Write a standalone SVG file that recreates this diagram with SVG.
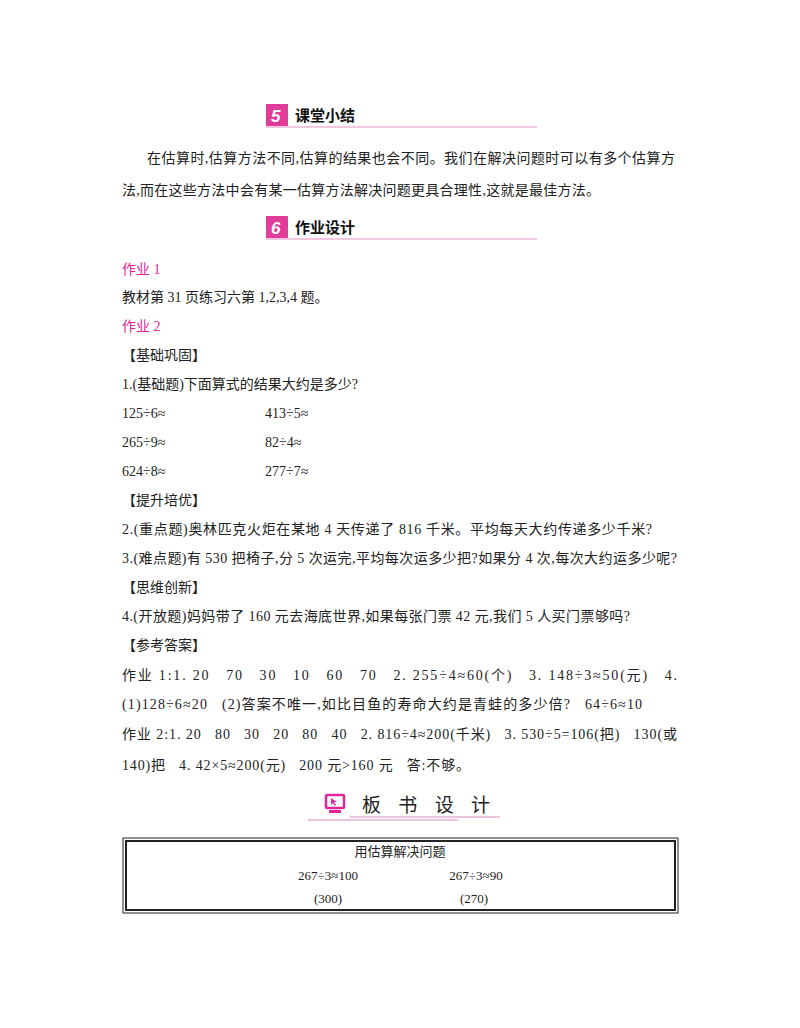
<svg xmlns="http://www.w3.org/2000/svg" width="800" height="1028" viewBox="0 0 800 1028">
<style>
text{font-family:"Liberation Serif","Noto Sans CJK SC",serif;font-size:14px;fill:#222}
.h{font-family:"Noto Sans CJK SC",sans-serif;font-weight:bold;font-size:15px;fill:#111}
.p{fill:#e0249a}
.n{font-family:"Liberation Sans",sans-serif;font-style:italic;font-weight:bold;font-size:17px;fill:#fff}
</style>
<rect width="800" height="1028" fill="#fff"/>
<g id="h5">
<rect x="266" y="104" width="22" height="22" fill="#e23c9a"/>
<text class="n" x="271" y="122">5</text>
<text class="h" x="295" y="121">课堂小结</text>
<line x1="266" y1="127" x2="537" y2="127" stroke="#e58fbf" stroke-width="1.2"/>
</g>
<text x="147" y="163" textLength="528" lengthAdjust="spacing">在估算时,估算方法不同,估算的结果也会不同。我们在解决问题时可以有多个估算方</text>
<text x="122" y="195" textLength="478" lengthAdjust="spacing">法,而在这些方法中会有某一估算方法解决问题更具合理性,这就是最佳方法。</text>
<g id="h6">
<rect x="266" y="216" width="22" height="22" fill="#e23c9a"/>
<text class="n" x="271" y="234">6</text>
<text class="h" x="295" y="233">作业设计</text>
<line x1="266" y1="239" x2="537" y2="239" stroke="#e58fbf" stroke-width="1.2"/>
</g>
<text x="122" y="274" class="p">作业 1</text>
<text x="122" y="302">教材第 31 页练习六第 1,2,3,4 题。</text>
<text x="122" y="331" class="p">作业 2</text>
<text x="122" y="360">【基础巩固】</text>
<text x="122" y="389">1.(基础题)下面算式的结果大约是多少?</text>
<text x="122" y="418">125÷6≈</text><text x="265" y="418">413÷5≈</text>
<text x="122" y="447">265÷9≈</text><text x="265" y="447">82÷4≈</text>
<text x="122" y="476">624÷8≈</text><text x="265" y="476">277÷7≈</text>
<text x="122" y="505">【提升培优】</text>
<text x="122" y="534" textLength="530" lengthAdjust="spacing">2.(重点题)奥林匹克火炬在某地 4 天传递了 816 千米。平均每天大约传递多少千米?</text>
<text x="122" y="563" textLength="555" lengthAdjust="spacing">3.(难点题)有 530 把椅子,分 5 次运完,平均每次运多少把?如果分 4 次,每次大约运多少呢?</text>
<text x="122" y="592">【思维创新】</text>
<text x="122" y="621" textLength="508" lengthAdjust="spacing">4.(开放题)妈妈带了 160 元去海底世界,如果每张门票 42 元,我们 5 人买门票够吗?</text>
<text x="122" y="650">【参考答案】</text>
<text x="122" y="680" textLength="555" lengthAdjust="spacing" xml:space="preserve">作业 1:1. 20   70   30   10   60   70   2. 255÷4≈60(个)   3. 148÷3≈50(元)   4.</text>
<text x="122" y="709" textLength="520" lengthAdjust="spacing" xml:space="preserve">(1)128÷6≈20   (2)答案不唯一,如比目鱼的寿命大约是青蛙的多少倍?   64÷6≈10</text>
<text x="122" y="739" textLength="555" lengthAdjust="spacing" xml:space="preserve">作业 2:1. 20   80   30   20   80   40   2. 816÷4≈200(千米)   3. 530÷5=106(把)   130(或</text>
<text x="122" y="770" textLength="348" lengthAdjust="spacing" xml:space="preserve">140)把   4. 42×5≈200(元)   200 元&gt;160 元   答:不够。</text>
<g id="hboard">
<rect x="326" y="795" width="18" height="13" rx="1" fill="none" stroke="#e0249a" stroke-width="2.5"/>
<path d="M331 798 l6 4 -3 0 2 3 -1 1 -2 -3 -2 2z" fill="#e0249a"/>
<rect x="329" y="810" width="12" height="3" fill="#e0249a"/>
<text x="362" y="812" style="font-size:19px" textLength="128" lengthAdjust="spacing">板书设计</text>
<line x1="350" y1="817" x2="500" y2="817" stroke="#d98ab8" stroke-width="1.2"/>
<line x1="308" y1="820" x2="458" y2="820" stroke="#d98ab8" stroke-width="1.2"/>
</g>
<g id="board">
<rect x="123" y="838" width="555" height="75" fill="none" stroke="#222" stroke-width="1"/>
<rect x="126" y="841" width="549" height="69" fill="none" stroke="#222" stroke-width="2"/>
<text x="400" y="856" text-anchor="middle" style="font-size:13px">用估算解决问题</text>
<text x="328" y="880" text-anchor="middle" style="font-size:13px">267÷3≈100</text>
<text x="476" y="880" text-anchor="middle" style="font-size:13px">267÷3≈90</text>
<text x="328" y="903" text-anchor="middle" style="font-size:13px">(300)</text>
<text x="474" y="903" text-anchor="middle" style="font-size:13px">(270)</text>
</g>
</svg>
